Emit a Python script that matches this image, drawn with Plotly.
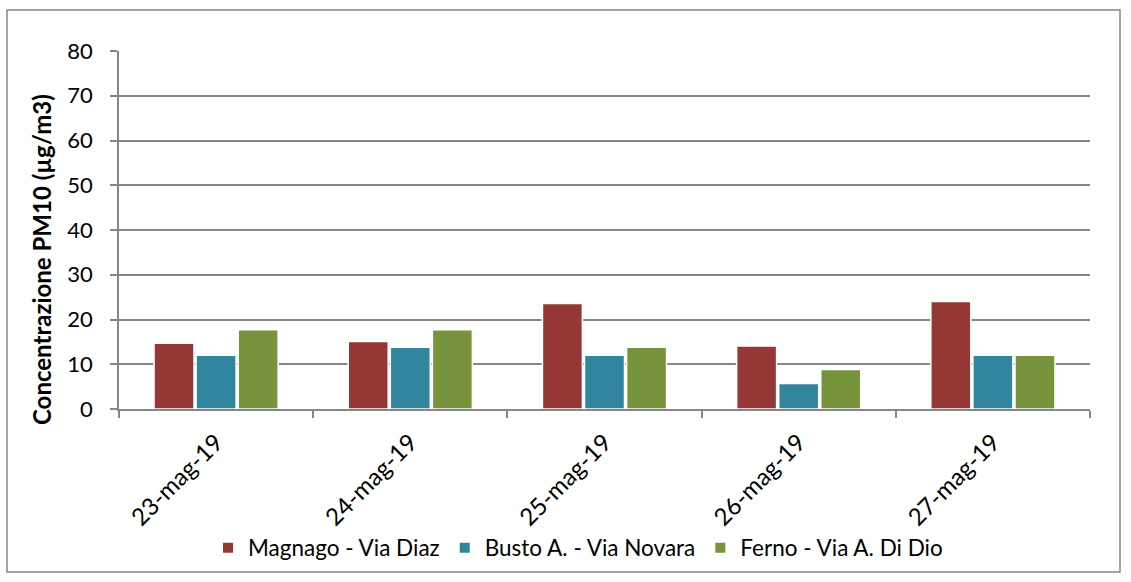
import plotly.graph_objects as go

categories = ["23-mag-19", "24-mag-19", "25-mag-19", "26-mag-19", "27-mag-19"]
magnago = [14.7, 15.1, 23.6, 14.1, 24.0]
busto = [12.0, 13.8, 12.0, 5.7, 12.0]
ferno = [17.7, 17.7, 13.8, 8.8, 12.0]
series_names = ["Magnago - Via Diaz", "Busto A. - Via Novara", "Ferno - Via A. Di Dio"]
colors = ["#953735", "#31859C", "#77933C"]
y_ticks = [0, 10, 20, 30, 40, 50, 60, 70, 80]
y_title = "Concentrazione PM10 (µg/m3)"

FONT = "Lato, Calibri, 'Open Sans', sans-serif"
GRID = "#868686"

fig = go.Figure()
for name, vals, col in zip(series_names, [magnago, busto, ferno], colors):
    fig.add_trace(go.Bar(
        x=categories, y=vals, name=name,
        marker=dict(color=col, line=dict(color="white", width=1.5)),
    ))

W, H = 1131, 582
L, R, T, B = 119, 1090, 51, 409
pw, ph = R - L, B - T

fig.update_layout(
    width=W, height=H,
    margin=dict(l=L, r=W - R, t=T, b=H - B),
    paper_bgcolor="white", plot_bgcolor="white",
    barmode="group", bargap=0.35, bargroupgap=0.05,
    font=dict(family=FONT, size=22, color="#000000"),
    showlegend=True,
    legend=dict(orientation="h", x=(578 - L) / pw, xanchor="center",
                y=(B - 548) / ph, yanchor="middle",
                bgcolor="rgba(0,0,0,0)",
                font=dict(family=FONT, size=22.5, color="#000000"),
                itemsizing="constant"),
    xaxis=dict(
        type="category", tickangle=-45, tickson="boundaries",
        ticks="outside", ticklen=7, tickcolor=GRID, tickwidth=1.5,
        showline=True, linecolor=GRID, linewidth=1.5,
        showgrid=False, ticklabelstandoff=8,
        tickfont=dict(family=FONT, size=24, color="#000000"),
    ),
    yaxis=dict(
        range=[0, 80], tickvals=y_ticks, ticks="outside", ticklen=7,
        tickcolor=GRID, tickwidth=1.5,
        showline=True, linecolor=GRID, linewidth=1.5,
        showgrid=True, gridcolor=GRID, gridwidth=1.5, zeroline=False,
        ticklabelstandoff=13,
        tickfont=dict(family=FONT, size=22, color="#000000"),
    ),
    annotations=[dict(text="<b>" + y_title + "</b>", textangle=-90,
                      xref="paper", yref="paper",
                      x=(41 - L) / pw, y=(B - 260) / ph,
                      xanchor="center", yanchor="middle", showarrow=False,
                      font=dict(family=FONT, size=24, color="#000000"))],
    shapes=[dict(type="rect", xref="paper", yref="paper",
                 x0=(7 - L) / pw, x1=(1120 - L) / pw,
                 y0=(B - 572) / ph, y1=(B - 10) / ph,
                 line=dict(color=GRID, width=1.5), fillcolor="rgba(0,0,0,0)", layer="below")],
)

fig.write_html("out.html", config={"displayModeBar": False},
               post_script="document.body.style.margin='0';")
